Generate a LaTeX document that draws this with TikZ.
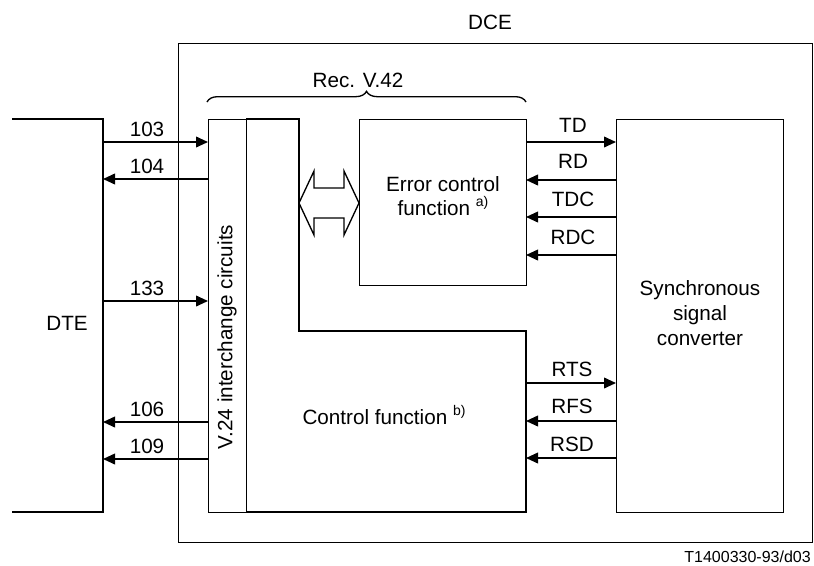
\documentclass[tikz,border=0pt]{standalone}
\usepackage{fontspec}
\setmainfont{Liberation Sans}
\usetikzlibrary{arrows.meta,decorations.pathreplacing}
\newcommand\supx[1]{\raisebox{0.45em}{\fontsize{10.5}{12}\selectfont #1}}
\begin{document}
\begin{tikzpicture}[x=0.75pt,y=-0.75pt,
  font=\fontsize{15.5}{18.5}\selectfont,
  box/.style={draw, line width=1pt, inner sep=0pt, anchor=north west},
  sig/.style={line width=1.3pt, -{Triangle[length=9pt,width=8pt]}},
  lbl/.style={anchor=base, inner sep=0pt},
]
\useasboundingbox (0,0) rectangle (814,565);
% DCE outer box
\node[box, line width=0.8pt, minimum width=475.5pt, minimum height=374.25pt] (dce) at (178,43) {};
\node (dcelbl) at (490,22) {DCE};
% DTE bracket
\coordinate (dtetop) at (103,119);
\coordinate (dtebot) at (103,512);
\draw[line width=1pt] (12,119) -- (dtetop) -- (dtebot) -- (12,512);
\node (dtelbl) at (67,323) {DTE};
% V.24 box
\node[box, minimum width=28.5pt, minimum height=294.75pt] (v24) at (208,119) {};
\node[rotate=90] (v24lbl) at (227,337) {V.24 interchange circuits};
% Control function L-shape
\coordinate (ctrlTL) at (246,119);
\coordinate (ctrlR) at (526,331);
\draw[line width=1pt] (ctrlTL) -- (299,119) -- (299,331) -- (ctrlR) -- (526,512) -- (246,512);
\node (ctrllbl) at (384,415) {Control function \supx{b)}};
% Error control box
\node[box, minimum width=125.25pt, minimum height=124.5pt] (err) at (359,119) {};
\node[align=center] (errlbl) at (443,196) {Error control\\function \supx{a)}};
% Synchronous signal converter
\node[box, minimum width=125.25pt, minimum height=294.75pt] (sync) at (616,119) {};
\node[align=center] (synclbl) at (700,313) {Synchronous\\signal\\converter};
% Brace
\coordinate (brL) at (207,102);
\coordinate (brR) at (526,102);
\draw[line width=1pt, decorate, decoration={brace, amplitude=8pt}] (brL) -- (brR);
\node (reclbl) at (358,80) {Rec. V.42};
% Double outline arrow
\draw[line width=1pt, fill=white] (299,203) -- (314,171) -- (314,188) -- (344,188) -- (344,171)
  -- (359,203) -- (344,235) -- (344,218) -- (314,218) -- (314,235) -- cycle;
% Left signals
\coordinate (l103) at (103,142);
\coordinate (l104) at (103,179);
\coordinate (l133) at (103,301);
\coordinate (l106) at (103,422);
\coordinate (l109) at (103,459);
\draw[sig] (l103) -- (l103 -| v24.west);
\draw[sig] (l104 -| v24.west) -- (l104);
\draw[sig] (l133) -- (l133 -| v24.west);
\draw[sig] (l106 -| v24.west) -- (l106);
\draw[sig] (l109 -| v24.west) -- (l109);
\node[lbl] at (147,136) {103};
\node[lbl] at (147,173) {104};
\node[lbl] at (147,295) {133};
\node[lbl] at (147,416) {106};
\node[lbl] at (147,453) {109};
% Right signals
\coordinate (rTD) at (526,142);
\coordinate (rRD) at (526,180);
\coordinate (rTDC) at (526,217);
\coordinate (rRDC) at (526,255);
\coordinate (rRTS) at (526,383);
\coordinate (rRFS) at (526,421);
\coordinate (rRSD) at (526,458);
\draw[sig] (rTD) -- (rTD -| sync.west);
\draw[sig] (rRD -| sync.west) -- (rRD);
\draw[sig] (rTDC -| sync.west) -- (rTDC);
\draw[sig] (rRDC -| sync.west) -- (rRDC);
\draw[sig] (rRTS) -- (rRTS -| sync.west);
\draw[sig] (rRFS -| sync.west) -- (rRFS);
\draw[sig] (rRSD -| sync.west) -- (rRSD);
\node[lbl] at (573,132) {TD};
\node[lbl] at (573,168) {RD};
\node[lbl] at (573,206) {TDC};
\node[lbl] at (573,244) {RDC};
\node[lbl] at (572,376) {RTS};
\node[lbl] at (572,413) {RFS};
\node[lbl] at (572,451) {RSD};
% Footer
\node[anchor=base east, inner sep=0pt, font=\fontsize{12}{14}\selectfont] (ref) at (811,562) {T1400330-93/d03};
\end{tikzpicture}
\end{document}
